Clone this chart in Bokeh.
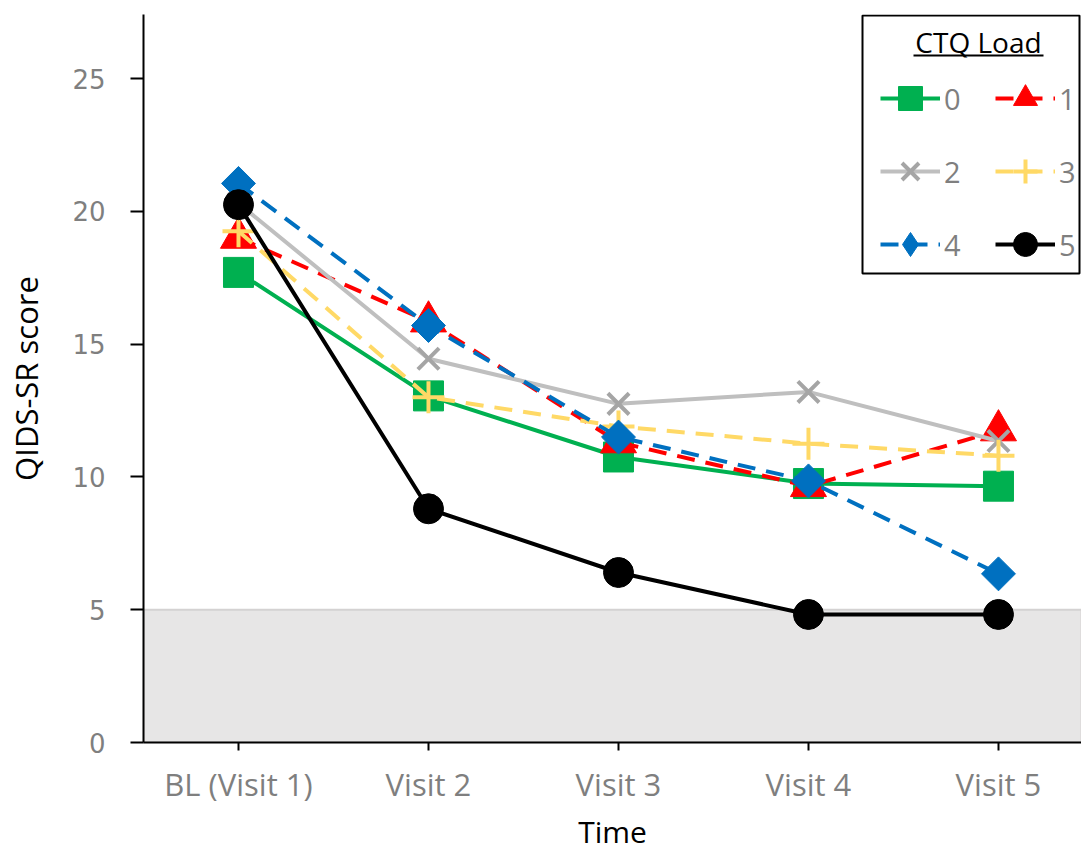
import math
from bokeh.plotting import figure
from bokeh.models import Range1d, FixedTicker, BoxAnnotation, Legend, LegendItem, Label
from bokeh.embed import file_html
from bokeh.resources import INLINE

# ---- data ----
visits = ["BL (Visit 1)", "Visit 2", "Visit 3", "Visit 4", "Visit 5"]
visit_idx = [0, 1, 2, 3, 4]
ctq_labels = ["0", "1", "2", "3", "4", "5"]
load0 = [17.7, 13.05, 10.75, 9.75, 9.65]
load1 = [19.0, 15.85, 11.3, 9.65, 11.75]
load2 = [20.3, 14.45, 12.75, 13.2, 11.35]
load3 = [19.25, 13.0, 11.9, 11.25, 10.8]
load4 = [21.05, 15.7, 11.5, 9.85, 6.35]
load5 = [20.25, 8.8, 6.4, 4.82, 4.82]
y_ticks = [0, 5, 10, 15, 20, 25]
remission_cutoff = 5

series = [load0, load1, load2, load3, load4, load5]
line_colors = ["#00B050", "#FF0000", "#BFBFBF", "#FFD966", "#0070C0", "#000000"]
marker_colors = ["#00B050", "#FF0000", "#A5A5A5", "#FFD966", "#0070C0", "#000000"]
markers = ["square", "triangle", "x", "cross", "square", "circle"]
legend_markers = ["square", "triangle", "x", "cross", "diamond", "circle"]
marker_sizes = [30, 36, 30, 32, 24, 30]
marker_angles = [0, 0, 0, 0, math.pi / 4, 0]
dashes = ["solid", "dashed", "solid", "dashed", "dashed", "solid"]

p = figure(width=1081, height=855, output_backend="svg", toolbar_location=None,
           x_range=Range1d(-0.5, 4.437), y_range=Range1d(0, 27.41),
           min_border_left=143, min_border_right=0, min_border_top=14,
           min_border_bottom=113)
p.outline_line_color = None
p.grid.visible = False
p.background_fill_color = "white"
p.border_fill_color = "white"

band = BoxAnnotation(bottom=0, top=remission_cutoff, fill_color="#E7E6E6", fill_alpha=1,
                     line_color="#D4D2D2", line_alpha=1, line_width=2, level="underlay")
p.add_layout(band)

items = []
for i, ys in enumerate(series):
    dash = "18 11" if dashes[i] == "dashed" else "solid"
    r_line = p.line(visit_idx, ys, line_color=line_colors[i], line_width=4, line_dash=dash)
    if markers[i] in ("x", "cross"):
        r_mark = p.scatter(visit_idx, ys, marker=markers[i], size=marker_sizes[i],
                           line_color=marker_colors[i], line_width=4, fill_color=None)
    else:
        r_mark = p.scatter(visit_idx, ys, marker=markers[i], size=marker_sizes[i],
                           angle=marker_angles[i],
                           fill_color=marker_colors[i], line_color=marker_colors[i])
    legend_rs = [r_line, r_mark]
    if legend_markers[i] != markers[i]:
        # legend ignores marker angle, so show the diamond shape through a
        # renderer whose single point is NaN (never drawn in the plot)
        r_leg = p.scatter([float("nan")], [float("nan")], marker=legend_markers[i],
                          size=marker_sizes[i],
                          fill_color=marker_colors[i], line_color=marker_colors[i])
        legend_rs = [r_line, r_leg]
    items.append(LegendItem(label=ctq_labels[i], renderers=legend_rs))

legend = Legend(items=items, location=(737, 468), orientation="horizontal", ncols=2,
                glyph_width=60, glyph_height=60, label_width=38, label_standoff=4,
                spacing=13, padding=0, margin=0,
                border_line_alpha=0, background_fill_alpha=0,
                label_text_font="Open Sans", label_text_font_size="29px",
                label_text_color="#7F7F7F")
p.add_layout(legend)

# legend frame, title and underline
p.add_layout(BoxAnnotation(left=719, right=936, bottom=469, top=727,
                           left_units="screen", right_units="screen",
                           bottom_units="screen", top_units="screen",
                           fill_alpha=0, line_color="black", line_alpha=1, line_width=2))
p.add_layout(Label(x=835, y=701, x_units="screen", y_units="screen", text="CTQ Load",
                   text_align="center", text_baseline="middle",
                   text_font="Open Sans", text_font_size="28px", text_color="black"))
p.add_layout(BoxAnnotation(left=770, right=900, bottom=686, top=688,
                           left_units="screen", right_units="screen",
                           bottom_units="screen", top_units="screen",
                           fill_color="black", fill_alpha=1, line_alpha=0))

xa = p.xaxis[0]
xa.ticker = FixedTicker(ticks=visit_idx)
xa.major_label_overrides = {i: v for i, v in zip(visit_idx, visits)}
xa.axis_label = "Time"
xa.axis_line_color = "black"
xa.axis_line_width = 2
xa.major_tick_line_color = "black"
xa.major_tick_line_width = 2
xa.major_tick_out = 8
xa.major_tick_in = 0
xa.minor_tick_line_color = None
xa.major_label_text_font = "Open Sans"
xa.major_label_text_font_size = "31px"
xa.major_label_text_color = "#7F7F7F"
xa.major_label_standoff = 12
xa.axis_label_text_font = "Open Sans"
xa.axis_label_text_font_size = "30px"
xa.axis_label_text_font_style = "normal"
xa.axis_label_text_color = "black"
xa.axis_label_standoff = 3

ya = p.yaxis[0]
ya.ticker = FixedTicker(ticks=y_ticks)
ya.axis_label = "QIDS-SR score"
ya.axis_line_color = "black"
ya.axis_line_width = 2
ya.major_tick_line_color = "black"
ya.major_tick_line_width = 2
ya.major_tick_out = 13
ya.major_tick_in = 0
ya.minor_tick_line_color = None
ya.major_label_text_font = "DejaVu Sans"
ya.major_label_text_font_size = "26px"
ya.major_label_text_color = "#7F7F7F"
ya.major_label_standoff = 25
ya.axis_label_text_font = "Open Sans"
ya.axis_label_text_font_size = "31px"
ya.axis_label_text_font_style = "normal"
ya.axis_label_text_color = "black"
ya.axis_label_standoff = 22

open("out.html", "w").write(file_html(p, INLINE))
